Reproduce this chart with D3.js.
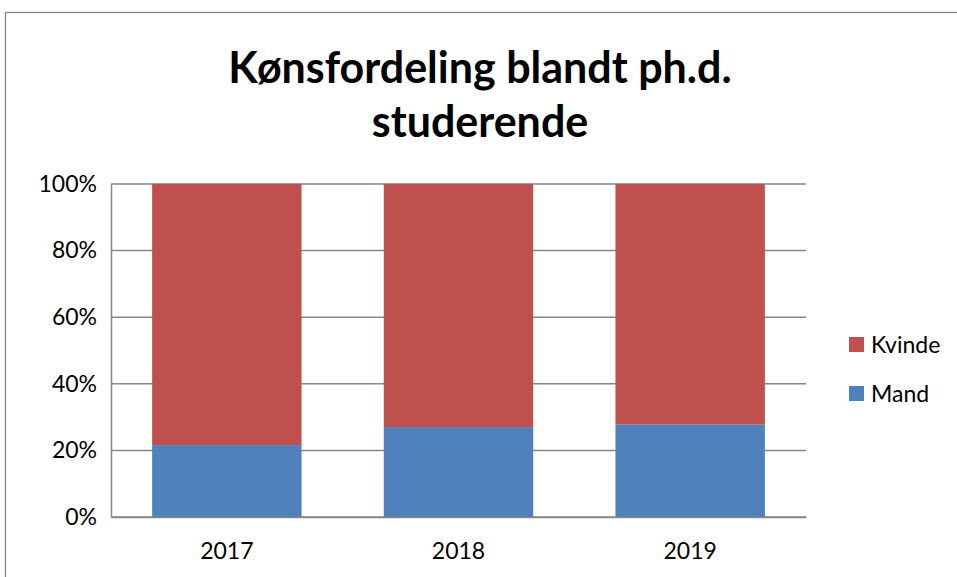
<!DOCTYPE html>
<html>
<head>
<meta charset="utf-8">
<script src="https://cdn.jsdelivr.net/npm/d3@7"></script>
<style>
  body { margin: 0; background: #fff; }
  svg { display: block; font-family: Lato, "Open Sans", sans-serif; }
</style>
</head>
<body>
<div id="chart"></div>
<script>
const years = ["2017", "2018", "2019"];
const mand = [21.6, 27.0, 27.8];
const kvinde = [78.4, 73.0, 72.2];
const seriesNames = ["Mand", "Kvinde"];
const seriesColors = ["#4F81BD", "#C0504D"];
const yTicks = [0, 20, 40, 60, 80, 100];

const width = 957, height = 577;
const margin = {top: 184, left: 111, right: 151, bottom: 60};

let svg = d3.select("#chart").append("svg")
    .attr("width", width)
    .attr("height", height);

// chart frame, cropped at right and bottom
svg.append("rect")
    .attr("x", 5.5).attr("y", 12.5)
    .attr("width", width + 20).attr("height", height + 20)
    .attr("fill", "#fff")
    .attr("stroke", "#888").attr("stroke-width", 1.3);

let x = d3.scaleBand()
    .domain(years)
    .range([margin.left, width - margin.right])
    .paddingInner(0.355)
    .paddingOuter(0.1775);

let y = d3.scaleLinear()
    .domain([0, 100])
    .range([height - margin.bottom, margin.top]);

// gridlines
svg.append("g")
    .selectAll("line")
    .data(yTicks)
    .enter().append("line")
    .attr("x1", margin.left).attr("x2", width - margin.right)
    .attr("y1", d => y(d)).attr("y2", d => y(d))
    .attr("stroke", "#878787").attr("stroke-width", 1.5);

// stacked bars
let rows = years.map((yr, i) => ({year: yr, Mand: mand[i], Kvinde: kvinde[i]}));
let stack = d3.stack().keys(seriesNames)(rows);

svg.append("g")
    .selectAll("g")
    .data(stack)
    .enter().append("g")
    .attr("fill", (d, i) => seriesColors[i])
    .selectAll("rect")
    .data(d => d)
    .enter().append("rect")
    .attr("x", d => x(d.data.year))
    .attr("width", x.bandwidth())
    .attr("y", d => y(d[1]))
    .attr("height", d => y(d[0]) - y(d[1]));

// y axis
let yAxis = svg.append("g")
    .attr("transform", `translate(${margin.left},0)`)
    .call(d3.axisLeft(y).tickValues(yTicks).tickSize(0).tickPadding(14).tickFormat(d => d + "%"));
yAxis.select(".domain").attr("stroke", "#878787").attr("stroke-width", 1.5);
yAxis.selectAll("text").attr("font-size", 23).attr("fill", "#000")
    .attr("font-family", "Lato, 'Open Sans', sans-serif");

// x axis
let xAxis = svg.append("g")
    .attr("transform", `translate(0,${height - margin.bottom})`)
    .call(d3.axisBottom(x).tickSize(0).tickPadding(26));
xAxis.select(".domain").attr("stroke", "#878787").attr("stroke-width", 1.5);
xAxis.selectAll("text").attr("font-size", 23).attr("fill", "#000")
    .attr("font-family", "Lato, 'Open Sans', sans-serif");

// title
let title = svg.append("text")
    .attr("text-anchor", "middle")
    .attr("font-size", 43)
    .attr("font-weight", "bold")
    .attr("fill", "#000");
title.append("tspan").attr("x", 480).attr("y", 83).text("Kønsfordeling blandt ph.d.");
title.append("tspan").attr("x", 480).attr("y", 137).text("studerende");

// legend (Kvinde on top)
let legend = svg.append("g")
    .selectAll("g")
    .data(seriesNames.slice().reverse())
    .enter().append("g")
    .attr("transform", (d, i) => `translate(849,${337 + i * 49})`);

legend.append("rect")
    .attr("width", 15).attr("height", 15)
    .attr("fill", d => seriesColors[seriesNames.indexOf(d)]);

legend.append("text")
    .attr("x", 22).attr("y", 16)
    .attr("font-size", 23)
    .attr("fill", "#000")
    .text(d => d);
</script>
</body>
</html>
